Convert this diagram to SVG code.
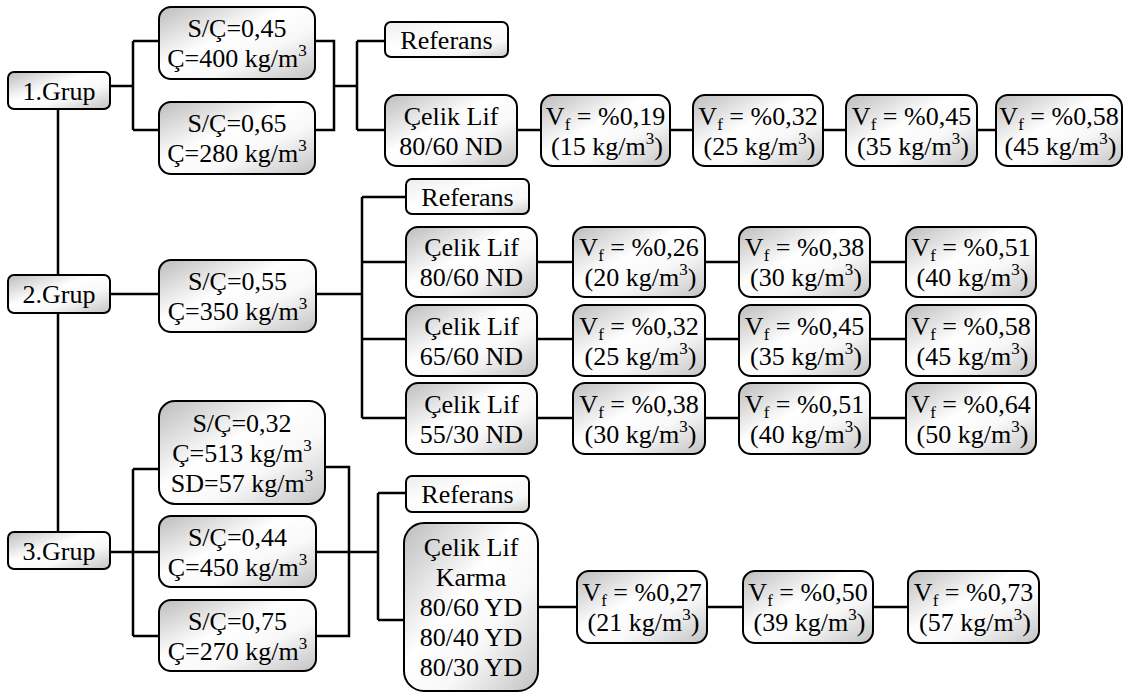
<svg xmlns="http://www.w3.org/2000/svg" width="1125" height="693" viewBox="0 0 1125 693">
<defs>
<linearGradient id="g" x1="0" y1="0" x2="1" y2="1">
<stop offset="0" stop-color="#bcbcbc"/>
<stop offset="0.42" stop-color="#ffffff"/>
<stop offset="0.65" stop-color="#f8f8f8"/>
<stop offset="1" stop-color="#c2c2c2"/>
</linearGradient>
<linearGradient id="gr" x1="0" y1="0" x2="1" y2="1">
<stop offset="0" stop-color="#ececec"/>
<stop offset="0.4" stop-color="#ffffff"/>
<stop offset="0.75" stop-color="#f8f8f8"/>
<stop offset="1" stop-color="#cccccc"/>
</linearGradient>
<style>
.box{fill:url(#g);stroke:#000;stroke-width:2}
.ref{fill:url(#gr);stroke:#000;stroke-width:2}
.c{stroke:#000;stroke-width:2.5;fill:none}
</style>
</defs>
<g id="connectors">
<path class="c" d="M110,86 H133 M133,41 V130 M133,41 H159 M133,130 H159 M315,41 H334 V130 H315 M334,86 H357 M357,41 V130 M357,41 H385 M357,130 H385 M517,130 H541 M670,130 H693 M823,130 H846 M977,130 H996 M58,109 V275 M58,313 V532 M110,294 H159 M316,294 H362 M362,197 V418 M362,197 H406 M362,262 H406 M362,339 H406 M362,418 H406 M537,262 H573 M705,262 H739 M870,262 H906 M537,339 H573 M705,339 H739 M870,339 H906 M537,418 H573 M705,418 H739 M870,418 H906 M110,552 H133 M133,469 V636 M133,469 H159 M133,552 H159 M133,636 H159 M325,467 H349 V636 H316 M316,552 H378 M378,493 V620 M378,493 H406 M378,620 H404 M538,607 H577 M707,607 H743 M873,607 H908"/>
</g>
<g id="grup1"><rect class="box" x="8" y="72" width="102" height="37" rx="6"/><text font-family="Liberation Serif" font-size="26" text-anchor="middle" x="59" y="99.5">1.Grup</text></g>
<g id="grup2"><rect class="box" x="8" y="275" width="102" height="38" rx="6"/><text font-family="Liberation Serif" font-size="26" text-anchor="middle" x="59" y="303">2.Grup</text></g>
<g id="grup3"><rect class="box" x="8" y="532" width="102" height="37" rx="6"/><text font-family="Liberation Serif" font-size="26" text-anchor="middle" x="59" y="559.5">3.Grup</text></g>

<g id="sc045"><rect class="box" x="159" y="7" width="156" height="72" rx="12"/><text font-family="Liberation Serif" font-size="26" text-anchor="middle" x="237" y="37">S/Ç=0,45</text><text font-family="Liberation Serif" font-size="26" text-anchor="middle" x="237" y="67">Ç=400 kg/m<tspan font-size="17" dy="-11">3</tspan></text></g>
<g id="sc065"><rect class="box" x="159" y="102" width="156" height="72" rx="12"/><text font-family="Liberation Serif" font-size="26" text-anchor="middle" x="237" y="132">S/Ç=0,65</text><text font-family="Liberation Serif" font-size="26" text-anchor="middle" x="237" y="162">Ç=280 kg/m<tspan font-size="17" dy="-11">3</tspan></text></g>
<g id="ref1"><rect class="ref" x="385" y="22" width="123" height="35" rx="6"/><text font-family="Liberation Serif" font-size="26" text-anchor="middle" x="446.5" y="48.5">Referans</text></g>
<g id="celik1"><rect class="box" x="385" y="95" width="132" height="71" rx="12"/><text font-family="Liberation Serif" font-size="26" text-anchor="middle" x="451" y="124.5">Çelik Lif</text><text font-family="Liberation Serif" font-size="26" text-anchor="middle" x="451" y="154.5">80/60 ND</text></g>
<g id="v1a"><rect class="box" x="541" y="95" width="129" height="71" rx="12"/><text font-family="Liberation Serif" font-size="26" text-anchor="middle" x="605.5" y="124.5">V<tspan font-size="17" dy="5">f</tspan><tspan dy="-5"> = %0,19</tspan></text><text font-family="Liberation Serif" font-size="26" text-anchor="middle" x="607" y="154.5">(15 kg/m<tspan font-size="17" dy="-11">3</tspan><tspan dy="11">)</tspan></text></g>
<g id="v1b"><rect class="box" x="693" y="95" width="130" height="71" rx="12"/><text font-family="Liberation Serif" font-size="26" text-anchor="middle" x="758" y="124.5">V<tspan font-size="17" dy="5">f</tspan><tspan dy="-5"> = %0,32</tspan></text><text font-family="Liberation Serif" font-size="26" text-anchor="middle" x="759.5" y="154.5">(25 kg/m<tspan font-size="17" dy="-11">3</tspan><tspan dy="11">)</tspan></text></g>
<g id="v1c"><rect class="box" x="846" y="95" width="131" height="71" rx="12"/><text font-family="Liberation Serif" font-size="26" text-anchor="middle" x="911.5" y="124.5">V<tspan font-size="17" dy="5">f</tspan><tspan dy="-5"> = %0,45</tspan></text><text font-family="Liberation Serif" font-size="26" text-anchor="middle" x="913" y="154.5">(35 kg/m<tspan font-size="17" dy="-11">3</tspan><tspan dy="11">)</tspan></text></g>
<g id="v1d"><rect class="box" x="996" y="95" width="126" height="71" rx="12"/><text font-family="Liberation Serif" font-size="26" text-anchor="middle" x="1059" y="124.5">V<tspan font-size="17" dy="5">f</tspan><tspan dy="-5"> = %0,58</tspan></text><text font-family="Liberation Serif" font-size="26" text-anchor="middle" x="1060.5" y="154.5">(45 kg/m<tspan font-size="17" dy="-11">3</tspan><tspan dy="11">)</tspan></text></g>

<g id="sc055"><rect class="box" x="159" y="260" width="157" height="72" rx="12"/><text font-family="Liberation Serif" font-size="26" text-anchor="middle" x="237.5" y="290">S/Ç=0,55</text><text font-family="Liberation Serif" font-size="26" text-anchor="middle" x="237.5" y="320">Ç=350 kg/m<tspan font-size="17" dy="-11">3</tspan></text></g>
<g id="ref2"><rect class="ref" x="406" y="179" width="123" height="35" rx="6"/><text font-family="Liberation Serif" font-size="26" text-anchor="middle" x="467.5" y="205.5">Referans</text></g>
<g id="celik2a"><rect class="box" x="406" y="227" width="131" height="70" rx="12"/><text font-family="Liberation Serif" font-size="26" text-anchor="middle" x="471.5" y="256">Çelik Lif</text><text font-family="Liberation Serif" font-size="26" text-anchor="middle" x="471.5" y="286">80/60 ND</text></g>
<g id="celik2b"><rect class="box" x="406" y="305" width="131" height="71" rx="12"/><text font-family="Liberation Serif" font-size="26" text-anchor="middle" x="471.5" y="334.5">Çelik Lif</text><text font-family="Liberation Serif" font-size="26" text-anchor="middle" x="471.5" y="364.5">65/60 ND</text></g>
<g id="celik2c"><rect class="box" x="406" y="383" width="131" height="71" rx="12"/><text font-family="Liberation Serif" font-size="26" text-anchor="middle" x="471.5" y="412.5">Çelik Lif</text><text font-family="Liberation Serif" font-size="26" text-anchor="middle" x="471.5" y="442.5">55/30 ND</text></g>

<g id="v2a1"><rect class="box" x="573" y="227" width="132" height="70" rx="12"/><text font-family="Liberation Serif" font-size="26" text-anchor="middle" x="639" y="256">V<tspan font-size="17" dy="5">f</tspan><tspan dy="-5"> = %0,26</tspan></text><text font-family="Liberation Serif" font-size="26" text-anchor="middle" x="640.5" y="286">(20 kg/m<tspan font-size="17" dy="-11">3</tspan><tspan dy="11">)</tspan></text></g>
<g id="v2a2"><rect class="box" x="739" y="227" width="131" height="70" rx="12"/><text font-family="Liberation Serif" font-size="26" text-anchor="middle" x="804.5" y="256">V<tspan font-size="17" dy="5">f</tspan><tspan dy="-5"> = %0,38</tspan></text><text font-family="Liberation Serif" font-size="26" text-anchor="middle" x="806" y="286">(30 kg/m<tspan font-size="17" dy="-11">3</tspan><tspan dy="11">)</tspan></text></g>
<g id="v2a3"><rect class="box" x="906" y="227" width="130" height="70" rx="12"/><text font-family="Liberation Serif" font-size="26" text-anchor="middle" x="971" y="256">V<tspan font-size="17" dy="5">f</tspan><tspan dy="-5"> = %0,51</tspan></text><text font-family="Liberation Serif" font-size="26" text-anchor="middle" x="972.5" y="286">(40 kg/m<tspan font-size="17" dy="-11">3</tspan><tspan dy="11">)</tspan></text></g>

<g id="v2b1"><rect class="box" x="573" y="305" width="132" height="71" rx="12"/><text font-family="Liberation Serif" font-size="26" text-anchor="middle" x="639" y="334.5">V<tspan font-size="17" dy="5">f</tspan><tspan dy="-5"> = %0,32</tspan></text><text font-family="Liberation Serif" font-size="26" text-anchor="middle" x="640.5" y="364.5">(25 kg/m<tspan font-size="17" dy="-11">3</tspan><tspan dy="11">)</tspan></text></g>
<g id="v2b2"><rect class="box" x="739" y="305" width="131" height="71" rx="12"/><text font-family="Liberation Serif" font-size="26" text-anchor="middle" x="804.5" y="334.5">V<tspan font-size="17" dy="5">f</tspan><tspan dy="-5"> = %0,45</tspan></text><text font-family="Liberation Serif" font-size="26" text-anchor="middle" x="806" y="364.5">(35 kg/m<tspan font-size="17" dy="-11">3</tspan><tspan dy="11">)</tspan></text></g>
<g id="v2b3"><rect class="box" x="906" y="305" width="130" height="71" rx="12"/><text font-family="Liberation Serif" font-size="26" text-anchor="middle" x="971" y="334.5">V<tspan font-size="17" dy="5">f</tspan><tspan dy="-5"> = %0,58</tspan></text><text font-family="Liberation Serif" font-size="26" text-anchor="middle" x="972.5" y="364.5">(45 kg/m<tspan font-size="17" dy="-11">3</tspan><tspan dy="11">)</tspan></text></g>

<g id="v2c1"><rect class="box" x="573" y="383" width="132" height="71" rx="12"/><text font-family="Liberation Serif" font-size="26" text-anchor="middle" x="639" y="412.5">V<tspan font-size="17" dy="5">f</tspan><tspan dy="-5"> = %0,38</tspan></text><text font-family="Liberation Serif" font-size="26" text-anchor="middle" x="640.5" y="442.5">(30 kg/m<tspan font-size="17" dy="-11">3</tspan><tspan dy="11">)</tspan></text></g>
<g id="v2c2"><rect class="box" x="739" y="383" width="131" height="71" rx="12"/><text font-family="Liberation Serif" font-size="26" text-anchor="middle" x="804.5" y="412.5">V<tspan font-size="17" dy="5">f</tspan><tspan dy="-5"> = %0,51</tspan></text><text font-family="Liberation Serif" font-size="26" text-anchor="middle" x="806" y="442.5">(40 kg/m<tspan font-size="17" dy="-11">3</tspan><tspan dy="11">)</tspan></text></g>
<g id="v2c3"><rect class="box" x="906" y="383" width="130" height="71" rx="12"/><text font-family="Liberation Serif" font-size="26" text-anchor="middle" x="971" y="412.5">V<tspan font-size="17" dy="5">f</tspan><tspan dy="-5"> = %0,64</tspan></text><text font-family="Liberation Serif" font-size="26" text-anchor="middle" x="972.5" y="442.5">(50 kg/m<tspan font-size="17" dy="-11">3</tspan><tspan dy="11">)</tspan></text></g>

<g id="sc032"><rect class="box" x="159" y="401" width="166" height="103" rx="16"/><text font-family="Liberation Serif" font-size="26" text-anchor="middle" x="242" y="431.5">S/Ç=0,32</text><text font-family="Liberation Serif" font-size="26" text-anchor="middle" x="242" y="461.5">Ç=513 kg/m<tspan font-size="17" dy="-11">3</tspan></text><text font-family="Liberation Serif" font-size="26" text-anchor="middle" x="242" y="491.5">SD=57 kg/m<tspan font-size="17" dy="-11">3</tspan></text></g>
<g id="sc044"><rect class="box" x="159" y="516" width="157" height="71" rx="12"/><text font-family="Liberation Serif" font-size="26" text-anchor="middle" x="237.5" y="545.5">S/Ç=0,44</text><text font-family="Liberation Serif" font-size="26" text-anchor="middle" x="237.5" y="575.5">Ç=450 kg/m<tspan font-size="17" dy="-11">3</tspan></text></g>
<g id="sc075"><rect class="box" x="159" y="600" width="157" height="71" rx="12"/><text font-family="Liberation Serif" font-size="26" text-anchor="middle" x="237.5" y="629.5">S/Ç=0,75</text><text font-family="Liberation Serif" font-size="26" text-anchor="middle" x="237.5" y="659.5">Ç=270 kg/m<tspan font-size="17" dy="-11">3</tspan></text></g>
<g id="ref3"><rect class="ref" x="406" y="476" width="123" height="36" rx="6"/><text font-family="Liberation Serif" font-size="26" text-anchor="middle" x="467.5" y="503">Referans</text></g>
<g id="karma"><rect class="box" x="404" y="523" width="134" height="168" rx="20"/><text font-family="Liberation Serif" font-size="26" text-anchor="middle" x="471" y="556">Çelik Lif</text><text font-family="Liberation Serif" font-size="26" text-anchor="middle" x="471" y="586">Karma</text><text font-family="Liberation Serif" font-size="26" text-anchor="middle" x="471" y="616">80/60 YD</text><text font-family="Liberation Serif" font-size="26" text-anchor="middle" x="471" y="646">80/40 YD</text><text font-family="Liberation Serif" font-size="26" text-anchor="middle" x="471" y="676">80/30 YD</text></g>

<g id="v3a"><rect class="box" x="577" y="571" width="130" height="72" rx="12"/><text font-family="Liberation Serif" font-size="26" text-anchor="middle" x="642" y="601">V<tspan font-size="17" dy="5">f</tspan><tspan dy="-5"> = %0,27</tspan></text><text font-family="Liberation Serif" font-size="26" text-anchor="middle" x="643.5" y="631">(21 kg/m<tspan font-size="17" dy="-11">3</tspan><tspan dy="11">)</tspan></text></g>
<g id="v3b"><rect class="box" x="743" y="571" width="130" height="72" rx="12"/><text font-family="Liberation Serif" font-size="26" text-anchor="middle" x="808" y="601">V<tspan font-size="17" dy="5">f</tspan><tspan dy="-5"> = %0,50</tspan></text><text font-family="Liberation Serif" font-size="26" text-anchor="middle" x="809.5" y="631">(39 kg/m<tspan font-size="17" dy="-11">3</tspan><tspan dy="11">)</tspan></text></g>
<g id="v3c"><rect class="box" x="908" y="571" width="131" height="72" rx="12"/><text font-family="Liberation Serif" font-size="26" text-anchor="middle" x="973.5" y="601">V<tspan font-size="17" dy="5">f</tspan><tspan dy="-5"> = %0,73</tspan></text><text font-family="Liberation Serif" font-size="26" text-anchor="middle" x="975" y="631">(57 kg/m<tspan font-size="17" dy="-11">3</tspan><tspan dy="11">)</tspan></text></g>
</svg>
